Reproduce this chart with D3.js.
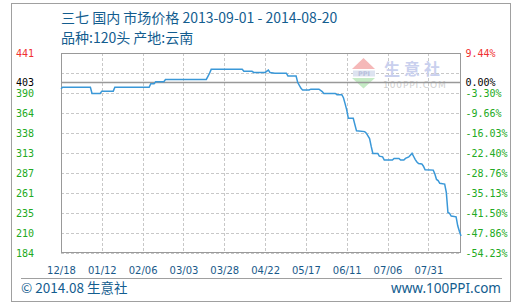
<!DOCTYPE html>
<html><head><meta charset="utf-8">
<script src="https://cdn.jsdelivr.net/npm/d3@7/dist/d3.min.js"></script>
<style>body{margin:0;background:#fff}svg{display:block}</style>
</head><body>
<svg id="c" width="518" height="306"></svg>
<script>
// ---- data ----
const dates = ["2013-12-18","2013-12-19","2014-01-05","2014-01-06","2014-01-11","2014-01-12","2014-01-19","2014-01-20",
"2014-02-10","2014-02-11","2014-02-13","2014-02-14","2014-02-19","2014-02-20","2014-03-17","2014-03-18","2014-03-19","2014-03-20",
"2014-04-08","2014-04-09","2014-04-14","2014-04-15","2014-04-22","2014-04-24","2014-04-25","2014-04-28","2014-05-05","2014-05-06",
"2014-05-11","2014-05-12","2014-05-14","2014-05-15","2014-05-19","2014-05-20","2014-05-25","2014-05-27","2014-05-28","2014-06-04",
"2014-06-05","2014-06-08","2014-06-09","2014-06-10","2014-06-11","2014-06-12","2014-06-15","2014-06-17","2014-06-22","2014-06-23",
"2014-06-25","2014-06-26","2014-06-27","2014-06-30","2014-07-01","2014-07-03","2014-07-04","2014-07-09","2014-07-10","2014-07-13",
"2014-07-14","2014-07-16","2014-07-17","2014-07-19","2014-07-21","2014-07-22","2014-07-23","2014-07-24","2014-07-25","2014-07-27",
"2014-07-28","2014-07-29","2014-08-03","2014-08-04","2014-08-05","2014-08-06","2014-08-07","2014-08-10","2014-08-11","2014-08-12",
"2014-08-13","2014-08-14","2014-08-17","2014-08-18","2014-08-19","2014-08-20"];
const prices = [395,397,397,389,389,392,392,397,
397,401.5,401.5,404,404,407,407,411,415,420,
420,417.5,417.5,416,416,419,416,415,415,411.5,
411.5,403,395.5,393.5,393.5,394.5,394.5,391.5,389,389,
387.5,387.5,383.5,376,368,357,357,341,340,338,
331,321,312,312,308.5,307.5,303.5,303.5,305.5,305.5,
303.5,303.5,305.5,307.5,312,308,304,301,299,298.5,
295.5,291,290.5,285.5,278.5,277,273.5,272.5,262,236,
235,231.5,230.5,219,212,206];
const xTickDates = ["2013-12-18","2014-01-12","2014-02-06","2014-03-03","2014-03-28","2014-04-22","2014-05-17","2014-06-11","2014-07-06","2014-07-31"];
const gridValues = [441,415.3,389.6,363.9,338.2,312.5,286.8,261.1,235.4,209.7,184];
const leftTickValues = [441,403,389.6,363.9,338.2,312.5,286.8,261.1,235.4,209.7,184];
const leftTickLabels = ["441","403","390","364","338","313","287","261","235","210","184"];
const rightTickLabels = ["9.44%","0.00%","-3.30%","-9.66%","-16.03%","-22.40%","-28.76%","-35.13%","-41.50%","-47.86%","-54.23%"];
const baseValue = 403;
const titleText = "三七 国内 市场价格 2013-09-01 - 2014-08-20";
const subText = "品种:120头 产地:云南";

// ---- drawing ----
const parse = d3.timeParse("%Y-%m-%d");
const data = dates.map((d,i)=>({d:parse(d), v:prices[i]}));
const svg = d3.select("#c");
const L=61, R=461, T=53, B=253;
const x = d3.scaleTime().domain([parse("2013-12-18"), parse("2014-08-20")]).range([L,R]);
const y = d3.scaleLinear().domain([184,441]).range([B,T]);

// outer frame
svg.append("rect").attr("x",11.5).attr("y",3.5).attr("width",499).attr("height",298)
  .attr("fill","#fff").attr("stroke","#a0a0a0");

const CJK = "'Noto Sans CJK SC','Noto Sans',sans-serif";
svg.append("text").attr("x",61).attr("y",22.5).attr("font-family",CJK).attr("font-size",14)
  .attr("fill","#135d8f").text(titleText);
svg.append("text").attr("x",61).attr("y",43).attr("font-family",CJK).attr("font-size",14)
  .attr("fill","#135d8f").text(subText);

// grid
const g = svg.append("g");
g.selectAll(".hg").data(gridValues).join("line")
  .attr("x1",L).attr("x2",R).attr("y1",d=>Math.round(y(d))+0.5).attr("y2",d=>Math.round(y(d))+0.5)
  .attr("stroke","#c8c8c8").attr("stroke-dasharray","3,2");
g.selectAll(".vg").data(xTickDates).join("line")
  .attr("x1",d=>Math.round(x(parse(d)))+0.5).attr("x2",d=>Math.round(x(parse(d)))+0.5)
  .attr("y1",T).attr("y2",B)
  .attr("stroke","#c8c8c8").attr("stroke-dasharray","3,2");

// watermark
const wm = svg.append("g");
wm.append("path").attr("d","M352,69 L363.5,58 L375,69 Z").attr("fill","#f5b8b8");
wm.append("rect").attr("x",353).attr("y",70.5).attr("width",22).attr("height",6).attr("fill","#dde3f0");
wm.append("text").attr("x",364).attr("y",76).attr("text-anchor","middle").attr("font-family","DejaVu Sans")
  .attr("font-size",6.5).attr("font-weight","bold").attr("fill","#b8c0dc").text("PPI");
wm.append("path").attr("d","M352,78 L375,78 L363.5,88.5 Z").attr("fill","#c5ebc5");
wm.append("text").attr("x",384).attr("y",75).attr("font-family",CJK).attr("font-size",16)
  .attr("font-weight","bold").attr("fill","#c9d0ee").attr("letter-spacing",4).text("生意社");
wm.append("text").attr("x",383).attr("y",88).attr("font-family","DejaVu Sans").attr("font-size",9)
  .attr("fill","#d0d0d0").attr("letter-spacing",0.9).text("100PPI.COM");

// plot border
svg.append("rect").attr("x",L+0.5).attr("y",T+0.5).attr("width",R-L-1).attr("height",B-T-1)
  .attr("fill","none").attr("stroke","#999");
// base line
svg.append("line").attr("x1",L).attr("x2",R).attr("y1",y(baseValue)).attr("y2",y(baseValue))
  .attr("stroke","#999").attr("stroke-width",1.5);

// series
const line = d3.line().x(d=>x(d.d)).y(d=>y(d.v));
svg.append("path").datum(data).attr("d",line).attr("fill","none")
  .attr("stroke","#3a98d8").attr("stroke-width",1.5);

// left/right labels
const colorFor = i => i===0 ? "#f03030" : (i===1 ? "#000" : "#22aa22");
svg.selectAll(".ll").data(leftTickValues).join("text")
  .attr("x",16).attr("y",d=>y(d)+3.5).attr("font-family","'DejaVu Sans Mono',monospace").attr("font-size",10)
  .attr("fill",(d,i)=>colorFor(i)).text((d,i)=>leftTickLabels[i]);
svg.selectAll(".rl").data(leftTickValues).join("text")
  .attr("x",465.5).attr("y",d=>y(d)+3.5).attr("font-family","'DejaVu Sans Mono',monospace").attr("font-size",10)
  .attr("fill",(d,i)=>colorFor(i)).text((d,i)=>rightTickLabels[i]);

// x axis labels
const fmt = d3.timeFormat("%m/%d");
const xa = d3.axisBottom(x).tickValues(xTickDates.map(parse)).tickFormat(fmt).tickSize(0).tickPadding(0);
const ax = svg.append("g").attr("transform",`translate(0,${B})`).call(xa);
ax.select(".domain").remove();
ax.selectAll("text").attr("dy",0).attr("y",20.5).attr("font-family","'DejaVu Sans',sans-serif")
  .attr("font-size",10).attr("fill","#1a5a8a");

// footer
svg.append("line").attr("x1",21).attr("x2",502).attr("y1",278.5).attr("y2",278.5).attr("stroke","#a0a0a0");
svg.append("text").attr("x",21).attr("y",293).attr("font-family",CJK).attr("font-size",13.5)
  .attr("fill","#135d8f").text("© 2014.08 生意社");
svg.append("text").attr("x",501).attr("y",293).attr("text-anchor","end").attr("font-family","'Noto Sans',sans-serif").attr("font-size",13.5)
  .attr("fill","#135d8f").text("www.100PPI.com");
</script>
</body></html>
